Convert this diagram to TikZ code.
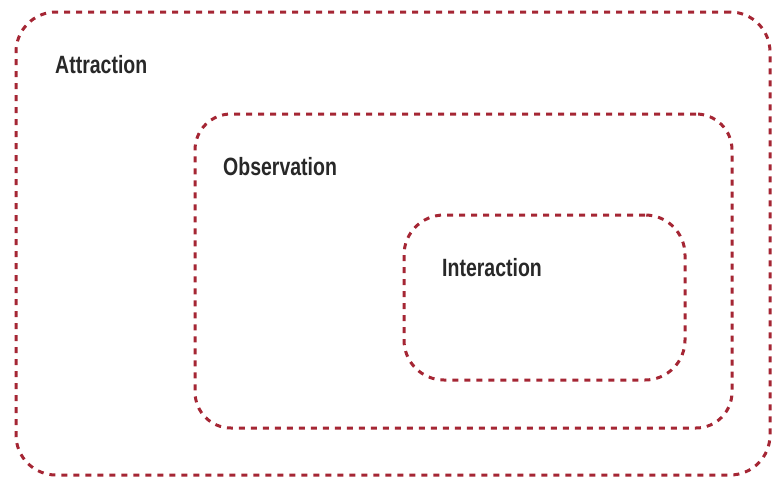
\documentclass[tikz,border=0pt]{standalone}
\usepackage{fontspec}
\newfontfamily\labelfont[FakeStretch=0.78]{Liberation Sans Bold}
\definecolor{zonered}{RGB}{165,38,52}
\definecolor{labelgray}{RGB}{40,40,40}
\begin{document}
\begin{tikzpicture}[x=1pt,y=-1pt,
  zone/.style={draw=zonered, line width=3pt, dash pattern=on 6pt off 6pt,
    rounded corners=40pt, rectangle, anchor=north west, inner sep=0pt, outer sep=0pt},
  zonelabel/.style={anchor=base west, inner sep=0pt, text=labelgray,
    font=\labelfont\fontsize{25}{28}\selectfont}]
  \useasboundingbox (0,0) rectangle (773,480);
  % nested zones
  \node[zone, minimum width=754pt, minimum height=463pt] (attraction) at (16,12) {};
  \node[zone, minimum width=537pt, minimum height=314pt, rounded corners=36pt] (observation) at (195,114) {};
  \node[zone, minimum width=281pt, minimum height=165pt] (interaction) at (404,215) {};
  % zone labels
  \node[zonelabel] (attractionlabel) at (55,73) {Attraction};
  \node[zonelabel] (observationlabel) at (223,175) {Observation};
  \node[zonelabel] (interactionlabel) at (442,276) {Interaction};
\end{tikzpicture}
\end{document}
